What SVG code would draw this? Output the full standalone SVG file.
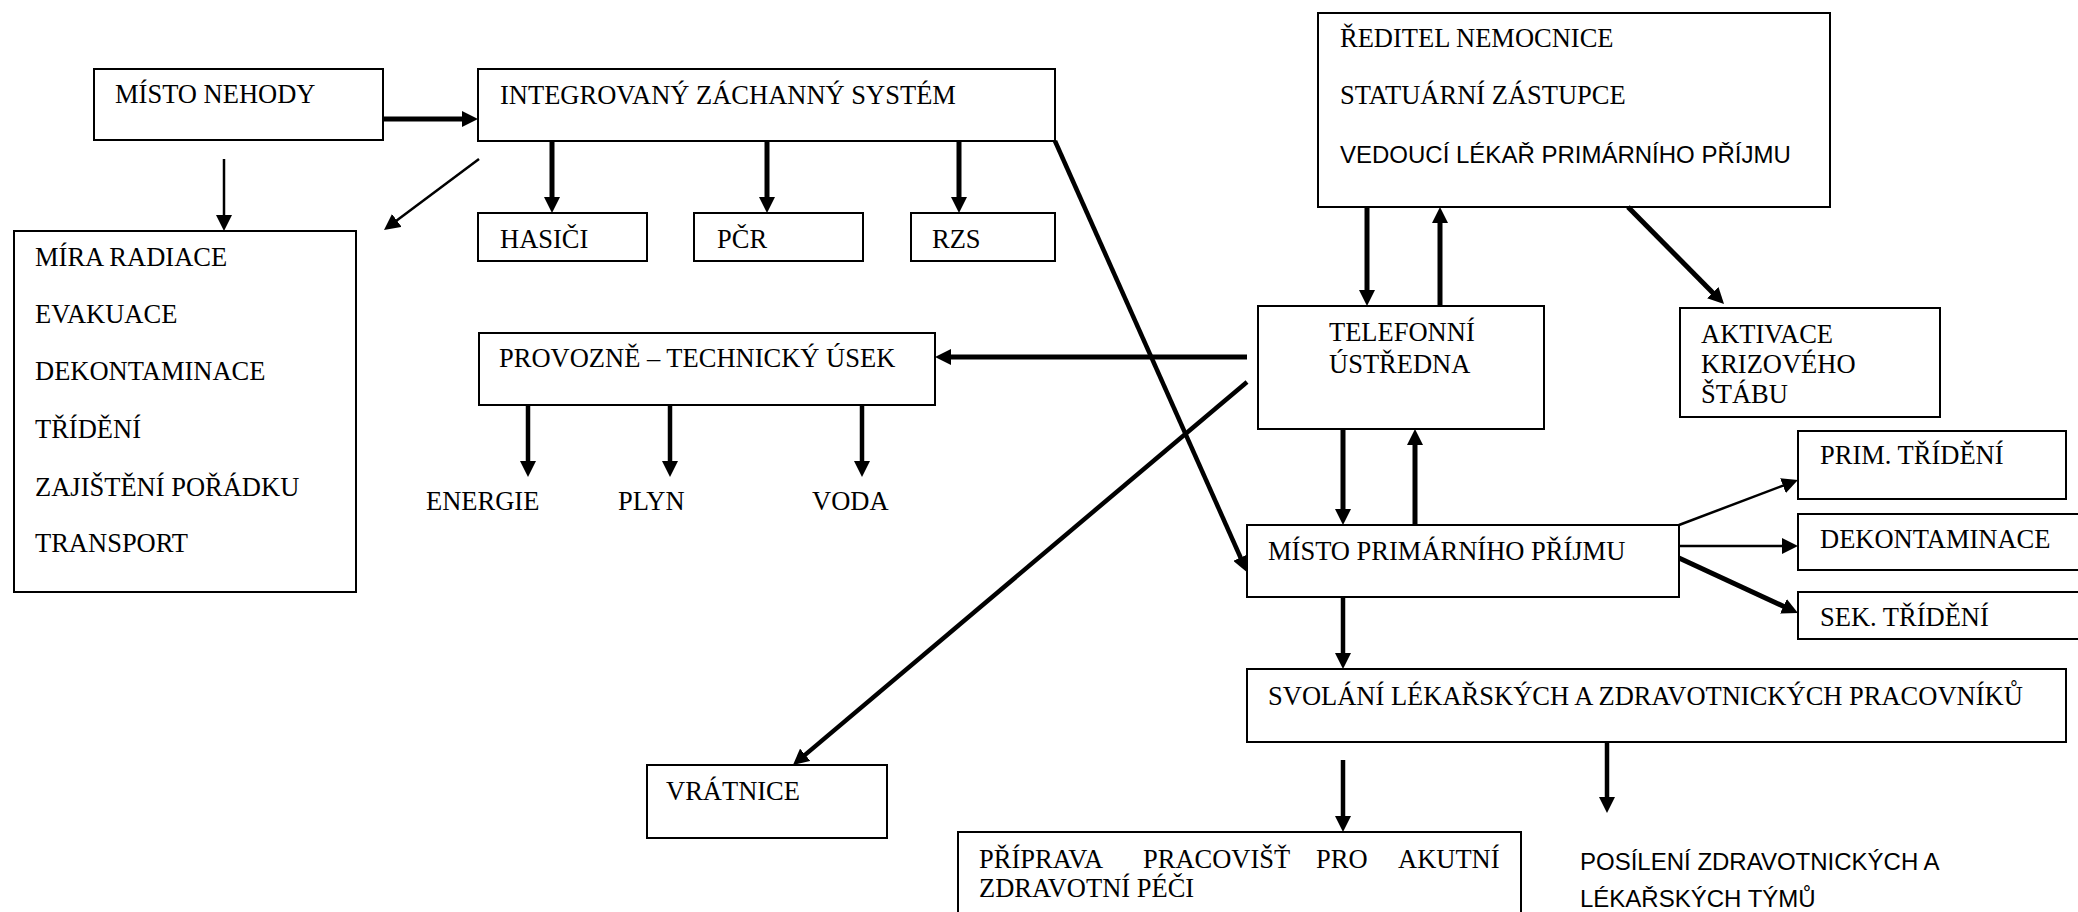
<svg xmlns="http://www.w3.org/2000/svg" width="2078" height="912" viewBox="0 0 2078 912">
<style>
  .box { fill: #fff; stroke: #000; stroke-width: 2; }
  .t { font-family: "Liberation Serif", "Times New Roman", serif; font-size: 26.5px; fill: #000; }
  .s { font-family: "Liberation Sans", Arial, sans-serif; font-size: 24px; fill: #000; }
  .c { stroke: #000; fill: none; marker-end: url(#ah); }
  .w5 { stroke-width: 5; }
  .w4 { stroke-width: 4.5; }
  .w2 { stroke-width: 2.5; }
</style>
<defs>
  <marker id="ah" markerUnits="userSpaceOnUse" markerWidth="16" markerHeight="16" refX="6" refY="8" orient="auto" viewBox="0 0 16 16">
    <path d="M0,0 L16,8 L0,16 z" fill="#000"/>
  </marker>
</defs>
<rect width="2078" height="912" fill="#fff"/>

<g id="n_misto_nehody"><rect class="box" x="94" y="69" width="289" height="71"/><text class="t" x="115" y="103">MÍSTO NEHODY</text></g>
<g id="n_izs"><rect class="box" x="478" y="69" width="577" height="72"/><text class="t" x="500" y="104">INTEGROVANÝ ZÁCHANNÝ SYSTÉM</text></g>
<g id="n_hasici"><rect class="box" x="478" y="213" width="169" height="48"/><text class="t" x="500" y="248">HASIČI</text></g>
<g id="n_pcr"><rect class="box" x="694" y="213" width="169" height="48"/><text class="t" x="717" y="248">PČR</text></g>
<g id="n_rzs"><rect class="box" x="911" y="213" width="144" height="48"/><text class="t" x="932" y="248">RZS</text></g>
<g id="n_mira"><rect class="box" x="14" y="231" width="342" height="361"/>
  <text class="t" x="35" y="266">MÍRA RADIACE</text>
  <text class="t" x="35" y="323">EVAKUACE</text>
  <text class="t" x="35" y="380">DEKONTAMINACE</text>
  <text class="t" x="35" y="438">TŘÍDĚNÍ</text>
  <text class="t" x="35" y="496">ZAJIŠTĚNÍ POŘÁDKU</text>
  <text class="t" x="35" y="552">TRANSPORT</text>
</g>
<g id="n_provozne"><rect class="box" x="479" y="333" width="456" height="72"/><text class="t" x="499" y="367">PROVOZNĚ – TECHNICKÝ ÚSEK</text></g>
<g id="n_energie"><text class="t" x="426" y="510">ENERGIE</text></g>
<g id="n_plyn"><text class="t" x="618" y="510">PLYN</text></g>
<g id="n_voda"><text class="t" x="812" y="510">VODA</text></g>
<g id="n_reditel"><rect class="box" x="1318" y="13" width="512" height="194"/>
  <text class="t" x="1340" y="47">ŘEDITEL NEMOCNICE</text>
  <text class="t" x="1340" y="104">STATUÁRNÍ ZÁSTUPCE</text>
  <text class="s" x="1340" y="163">VEDOUCÍ LÉKAŘ PRIMÁRNÍHO PŘÍJMU</text>
</g>
<g id="n_telefonni"><rect class="box" x="1258" y="306" width="286" height="123"/>
  <text class="t" x="1329" y="341">TELEFONNÍ</text>
  <text class="t" x="1329" y="373">ÚSTŘEDNA</text>
</g>
<g id="n_aktivace"><rect class="box" x="1680" y="308" width="260" height="109"/>
  <text class="t" x="1701" y="343">AKTIVACE</text>
  <text class="t" x="1701" y="373">KRIZOVÉHO</text>
  <text class="t" x="1701" y="403">ŠTÁBU</text>
</g>
<g id="n_misto_prim"><rect class="box" x="1247" y="525" width="432" height="72"/><text class="t" x="1268" y="560">MÍSTO PRIMÁRNÍHO PŘÍJMU</text></g>
<g id="n_prim"><rect class="box" x="1798" y="431" width="268" height="68"/><text class="t" x="1820" y="464">PRIM. TŘÍDĚNÍ</text></g>
<g id="n_dekont"><rect class="box" x="1798" y="514" width="300" height="56"/><text class="t" x="1820" y="548">DEKONTAMINACE</text></g>
<g id="n_sek"><rect class="box" x="1798" y="592" width="300" height="47"/><text class="t" x="1820" y="626">SEK. TŘÍDĚNÍ</text></g>
<g id="n_svolani"><rect class="box" x="1247" y="669" width="819" height="73"/><text class="t" x="1268" y="705">SVOLÁNÍ LÉKAŘSKÝCH A ZDRAVOTNICKÝCH PRACOVNÍKŮ</text></g>
<g id="n_vratnice"><rect class="box" x="647" y="765" width="240" height="73"/><text class="t" x="666" y="800">VRÁTNICE</text></g>
<g id="n_priprava"><rect class="box" x="958" y="832" width="563" height="100"/>
  <text class="t" y="868"><tspan x="979">PŘÍPRAVA</tspan><tspan x="1143">PRACOVIŠŤ</tspan><tspan x="1316">PRO</tspan><tspan x="1398">AKUTNÍ</tspan></text>
  <text class="t" x="979" y="897">ZDRAVOTNÍ PÉČI</text>
</g>
<g id="n_posileni">
  <text class="s" x="1580" y="870">POSÍLENÍ ZDRAVOTNICKÝCH A</text>
  <text class="s" x="1580" y="907">LÉKAŘSKÝCH TÝMŮ</text>
</g>

<g id="connectors">
  <line class="c w5" x1="383" y1="119" x2="468" y2="119"/>
  <line class="c w2" x1="224" y1="159" x2="224" y2="221"/>
  <line class="c w2" x1="479" y1="159" x2="392" y2="224"/>
  <line class="c w5" x1="552" y1="141" x2="552" y2="203"/>
  <line class="c w5" x1="767" y1="141" x2="767" y2="203"/>
  <line class="c w5" x1="959" y1="141" x2="959" y2="203"/>
  <line class="c w4" x1="1055" y1="141" x2="1243" y2="563"/>
  <line class="c w5" x1="1247" y1="357" x2="945" y2="357"/>
  <line class="c w4" x1="528" y1="405" x2="528" y2="467"/>
  <line class="c w4" x1="670" y1="405" x2="670" y2="467"/>
  <line class="c w4" x1="862" y1="405" x2="862" y2="467"/>
  <line class="c w4" x1="1247" y1="382" x2="800.6" y2="758.6"/>
  <line class="c w5" x1="1367" y1="207" x2="1367" y2="296"/>
  <line class="c w5" x1="1440" y1="306" x2="1440" y2="217"/>
  <line class="c w5" x1="1628" y1="207" x2="1717" y2="297"/>
  <line class="c w5" x1="1343" y1="429" x2="1343" y2="515"/>
  <line class="c w5" x1="1415" y1="525" x2="1415" y2="439"/>
  <line class="c w2" x1="1679" y1="525" x2="1788.6" y2="483.5"/>
  <line class="c w2" x1="1679" y1="546" x2="1788" y2="546"/>
  <line class="c w5" x1="1679" y1="558" x2="1788.9" y2="608.8"/>
  <line class="c w4" x1="1343" y1="597" x2="1343" y2="659"/>
  <line class="c w4" x1="1343" y1="760" x2="1343" y2="822"/>
  <line class="c w4" x1="1607" y1="741" x2="1607" y2="803"/>
</g>
</svg>
